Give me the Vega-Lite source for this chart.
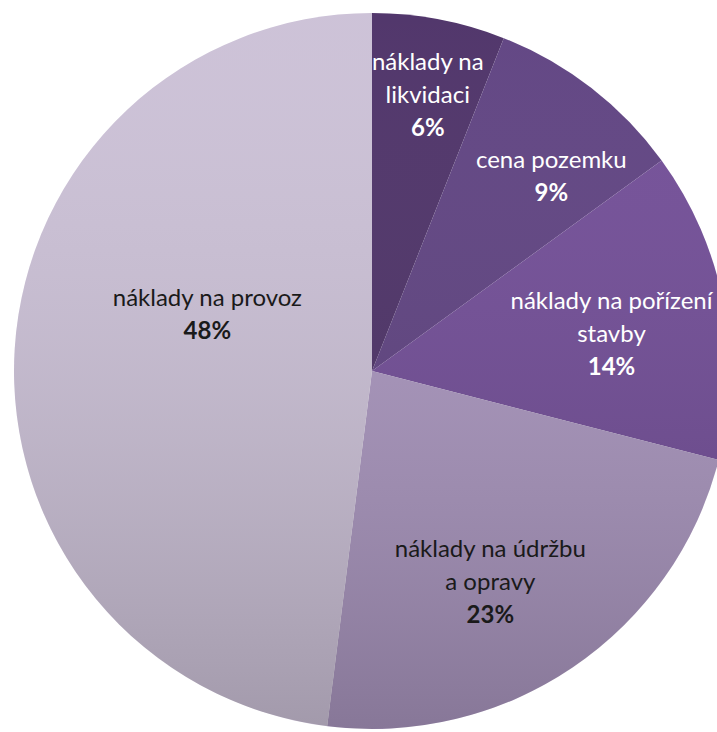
{
  "$schema": "https://vega.github.io/schema/vega-lite/v6.json",
  "width": 744,
  "height": 742,
  "padding": 0,
  "autosize": {"type": "none"},
  "background": "white",
  "view": {"stroke": null},
  "data": {
    "values": [
      {"kat": "náklady na likvidaci", "radky": ["náklady na", "likvidaci"], "podil": 6, "pct": "6%", "poradi": 1},
      {"kat": "cena pozemku", "radky": ["cena pozemku"], "podil": 9, "pct": "9%", "poradi": 2},
      {"kat": "náklady na pořízení stavby", "radky": ["náklady na pořízení", "stavby"], "podil": 14, "pct": "14%", "poradi": 3},
      {"kat": "náklady na údržbu a opravy", "radky": ["náklady na údržbu", "a opravy"], "podil": 23, "pct": "23%", "poradi": 4},
      {"kat": "náklady na provoz", "radky": ["náklady na provoz"], "podil": 48, "pct": "48%", "poradi": 5}
    ]
  },
  "layer": [
    {
      "mark": {"type": "arc", "outerRadius": 358},
      "encoding": {
        "theta": {"field": "podil", "type": "quantitative", "stack": true},
        "order": {"field": "poradi", "type": "quantitative"},
        "color": {
          "field": "kat",
          "type": "nominal",
          "legend": null,
          "scale": {
            "domain": ["náklady na likvidaci", "cena pozemku", "náklady na pořízení stavby", "náklady na údržbu a opravy", "náklady na provoz"],
            "range": ["#4b2f66", "#5d4080", "#704b96", "#a995be", "#cbc0d6"]
          }
        }
      }
    },
    {
      "data": {"values": [{"celek": 100}]},
      "mark": {
        "type": "arc",
        "outerRadius": 358,
        "color": {
          "gradient": "linear",
          "x1": 0, "y1": 0, "x2": 0, "y2": 1,
          "stops": [
            {"offset": 0, "color": "rgba(255,255,255,0.04)"},
            {"offset": 1, "color": "rgba(0,0,0,0.2)"}
          ]
        }
      },
      "encoding": {
        "theta": {"field": "celek", "type": "quantitative"}
      }
    },
    {
      "mark": {
        "type": "text",
        "font": "Lato",
        "fontSize": 24,
        "align": "center",
        "baseline": "middle",
        "lineHeight": 33,
        "radius": {"expr": "datum.poradi == 5 ? 176 : 255"},
        "dx": {"expr": "datum.poradi == 1 ? 8 : datum.poradi == 2 ? 23 : datum.poradi == 3 ? -11 : datum.poradi == 4 ? -25 : 11"},
        "dy": {"expr": "(datum.poradi == 1 ? -25 : datum.poradi == 2 ? 8 : datum.poradi == 3 ? 12 : datum.poradi == 4 ? 1 : -44) - length(datum.radky) * 16.5"},
        "fill": {"expr": "datum.poradi <= 3 ? '#ffffff' : '#1a1a1a'"}
      },
      "encoding": {
        "theta": {"field": "podil", "type": "quantitative", "stack": true},
        "order": {"field": "poradi", "type": "quantitative"},
        "text": {"field": "radky", "type": "nominal"}
      }
    },
    {
      "mark": {
        "type": "text",
        "font": "Lato",
        "fontSize": 24,
        "fontWeight": "bold",
        "align": "center",
        "baseline": "middle",
        "radius": {"expr": "datum.poradi == 5 ? 176 : 255"},
        "dx": {"expr": "datum.poradi == 1 ? 8 : datum.poradi == 2 ? 23 : datum.poradi == 3 ? -11 : datum.poradi == 4 ? -25 : 11"},
        "dy": {"expr": "(datum.poradi == 1 ? -25 : datum.poradi == 2 ? 8 : datum.poradi == 3 ? 12 : datum.poradi == 4 ? 1 : -44) + length(datum.radky) * 16.5"},
        "fill": {"expr": "datum.poradi <= 3 ? '#ffffff' : '#1a1a1a'"}
      },
      "encoding": {
        "theta": {"field": "podil", "type": "quantitative", "stack": true},
        "order": {"field": "poradi", "type": "quantitative"},
        "text": {"field": "pct", "type": "nominal"}
      }
    }
  ]
}
